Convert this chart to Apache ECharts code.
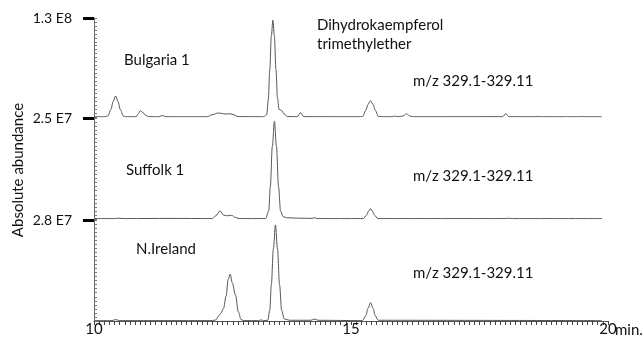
<!DOCTYPE html>
<html><head><meta charset="utf-8">
<script src="https://cdn.jsdelivr.net/npm/echarts@6/dist/echarts.min.js"></script>
<style>html,body{margin:0;padding:0;background:#fff}#c{width:644px;height:337px}</style>
</head><body><div id="c"></div>
<script>
// Retention time (min) and abundance (x1e6) per sample
var bulgariaTime = [10.00,10.22,10.27,10.33,10.37,10.42,10.47,10.51,10.57,10.62,10.82,10.86,10.90,10.95,11.00,11.06,11.25,11.33,11.40,12.20,12.30,12.42,12.50,12.55,12.64,12.72,12.80,13.30,13.36,13.39,13.42,13.45,13.48,13.51,13.54,13.57,13.60,13.65,13.70,13.76,13.95,14.02,14.08,15.18,15.23,15.29,15.33,15.38,15.43,15.47,15.53,15.60,15.80,15.85,15.92,16.02,16.08,16.14,16.20,17.95,18.01,18.07,18.60,18.64,18.68,19.15,19.19,19.23,19.45,19.49,19.53,19.88];
var bulgariaAbund = [0.3,0.3,1.5,10,20,27.6,20,10,1.5,0.3,0.3,4,8.3,6,2.5,0.5,0.2,2,0.3,0.3,3,5.3,4.5,3.8,4.3,3,0.5,0.3,3,22,62,106,127,106,62,25,10,8.5,4,0.6,0.3,5.7,0.4,0.3,1,9,16.5,21.4,16.5,9,1,0.3,0.3,1.2,0.3,1.5,4.4,1.5,0.3,0.4,4.4,0.4,0.3,0.9,0.3,0.3,0.8,0.3,0.3,0.8,0.3,0.3];
var suffolkTime = [10.00,10.40,10.45,10.60,11.50,12.30,12.37,12.45,12.52,12.58,12.68,12.75,12.82,13.34,13.40,13.43,13.47,13.51,13.55,13.59,13.63,13.68,13.75,14.00,14.24,14.29,14.35,15.24,15.30,15.34,15.38,15.42,15.46,15.52,18.00,18.07,18.14,19.88];
var suffolkAbund = [0.1,0.1,0.2,0.1,0.15,0.1,0.8,2.0,1.0,0.8,0.9,0.4,0.1,0.1,2,8,18,24.2,18,8,2,0.6,0.3,0.2,0.15,0.3,0.1,0.1,0.9,1.9,2.56,1.9,0.9,0.1,0.1,0.2,0.1,0.1];
var irelandTime = [10.00,10.35,10.42,10.50,12.30,12.37,12.43,12.47,12.52,12.57,12.61,12.65,12.69,12.75,12.81,12.86,12.92,13.20,13.25,13.30,13.38,13.42,13.45,13.49,13.53,13.57,13.61,13.65,13.70,13.80,14.22,14.29,14.36,15.22,15.29,15.33,15.38,15.43,15.47,15.53,19.88];
var irelandAbund = [0.1,0.1,0.4,0.1,0.1,0.3,1.5,2.2,3.5,6.9,11.5,13,10.6,7.3,2.5,0.4,0.1,0.1,0.3,0.1,0.2,3,10,20,26.6,20,10,3,0.6,0.2,0.2,0.55,0.2,0.1,1.5,3.5,5.1,3.5,1.5,0.2,0.1];

var sampleNames = ['Bulgaria 1','Suffolk 1','N.Ireland'];
var panelMax = [130, 25, 28];            // x1e6
var panelMaxLabels = ['1.3 E8','2.5 E7','2.8 E7'];
var xTickValues = [10, 15, 20];
var xTickLabels = ['10', '15', '20'];
var mzText = 'm/z 329.1-329.11';
var compoundText = 'Dihydrokaempferol\ntrimethylether';

var times = [bulgariaTime, suffolkTime, irelandTime];
var abunds = [bulgariaAbund, suffolkAbund, irelandAbund];

// positions of the fine axis ticks (decoration only)
function steps(a, b, n){ var r=[]; for (var k=0;k<=n;k++) r.push(a+(b-a)*k/n); return r; }

var FONT = 'Lato, "Open Sans", sans-serif';
var FS = 15;
var gridPos = [{top:18,height:99},{top:118,height:101},{top:220,height:102}];
var grids = [], xAxes = [], yAxes = [], series = [];
for (var i=0;i<3;i++){
  grids.push({left:94, width:514, top:gridPos[i].top, height:gridPos[i].height});
  var last = i===2;
  xAxes.push({
    type:'value', gridIndex:i, min:10, max:20, interval:5,
    show:true,
    axisLine:{show:last, onZero:false, lineStyle:{color:'#555', width:1}},
    axisTick:{show:last, customValues:steps(10,20,100), length:4, lineStyle:{color:'#444', width:1}},
    axisLabel:{show:last, customValues:xTickValues, color:'#111', fontSize:FS, fontFamily:FONT, margin:1,
      formatter:function(v){var j=xTickValues.indexOf(v); return j>=0?xTickLabels[j]:'';}},
    splitLine:{show:false}
  });
}
for (var i=0;i<3;i++){
  (function(idx){
    yAxes.push({
      type:'value', gridIndex:idx, position:'left', min:0, max:panelMax[idx],
      axisLine:{show:true, lineStyle:{color:'#666', width:1}},
      axisTick:{show:true, customValues:[panelMax[idx]], length:11, lineStyle:{color:'#000', width:3}},
      axisLabel:{show:true, customValues:[panelMax[idx]], color:'#111', fontSize:14, fontFamily:FONT, margin:22,
        formatter:function(){return panelMaxLabels[idx];}},
      splitLine:{show:false}
    });
  })(i);
}
for (var i=0;i<3;i++){
  yAxes.push({
    type:'value', gridIndex:i, position:'left', offset:0, min:0, max:panelMax[i],
    axisLine:{show:false}, axisLabel:{show:false}, splitLine:{show:false},
    axisTick:{show:true, inside:true, customValues:steps(0,panelMax[i],25), length:3, lineStyle:{color:'#777', width:1}}
  });
}
for (var i=0;i<3;i++){
  var d = [];
  for (var k=0;k<times[i].length;k++) d.push([times[i][k], abunds[i][k]]);
  series.push({
    type:'line', xAxisIndex:i, yAxisIndex:i, data:d, showSymbol:false,
    smooth:0.35, smoothMonotone:'x',
    lineStyle:{color:'#555', width:1}, silent:true, animation:false
  });
}

var txt = function(x,y,t,extra){
  var s = {text:t, fill:'#111', font:FS+'px ' + FONT};
  for (var k in extra) s[k]=extra[k];
  return {type:'text', x:x, y:y, style:s, silent:true};
};
var chart = echarts.init(document.getElementById('c'), null, {renderer:'canvas'});
chart.setOption({
  animation:false,
  grid:grids, xAxis:xAxes, yAxis:yAxes, series:series,
  graphic:[
    txt(124,60,sampleNames[0],{verticalAlign:'middle'}),
    txt(126,170,sampleNames[1],{verticalAlign:'middle'}),
    txt(136,249,sampleNames[2],{verticalAlign:'middle'}),
    txt(317,16,compoundText,{lineHeight:19}),
    txt(413,81,mzText,{verticalAlign:'middle'}),
    txt(413,176,mzText,{verticalAlign:'middle'}),
    txt(413,273,mzText,{verticalAlign:'middle'}),
    txt(615,330,'min.',{verticalAlign:'middle'}),
    {type:'text', x:18, y:170, rotation:Math.PI/2, silent:true,
     style:{text:'Absolute abundance', fill:'#111', font:FS+'px '+FONT, align:'center', verticalAlign:'middle'}}
  ]
});
</script></body></html>
